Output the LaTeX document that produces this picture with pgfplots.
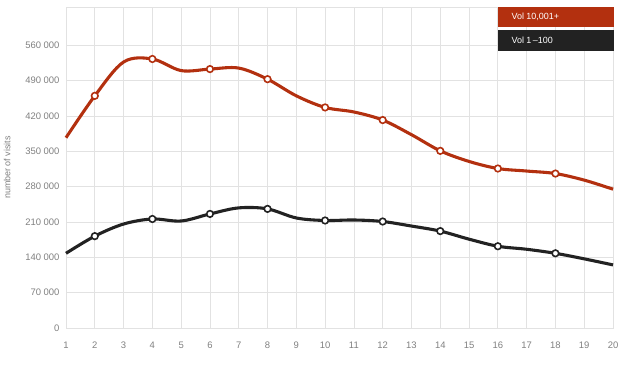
\documentclass[border=0pt]{standalone}
\usepackage{pgfplots}
\pgfplotsset{compat=1.18}
\usepackage{fontspec}
\setmainfont{Liberation Sans}
\definecolor{redline}{HTML}{B3300F}
\definecolor{blackline}{HTML}{222222}
\definecolor{gridc}{HTML}{E2E2E2}
\definecolor{tickc}{HTML}{808080}
\begin{document}
\begin{tikzpicture}[x=1bp,y=1bp]
\useasboundingbox (0,0) rectangle (624,368);
\begin{axis}[
  at={(66bp,40bp)}, anchor=south west,
  scale only axis, width=547bp, height=321bp,
  xmin=1, xmax=20, ymin=0, ymax=636000,
  xtick={1,2,3,4,5,6,7,8,9,10,11,12,13,14,15,16,17,18,19,20},
  xticklabels={1,2,3,4,5,6,7,8,9,10,11,12,13,14,15,16,17,18,19,20},
  ytick={0,70000,140000,210000,280000,350000,420000,490000,560000},
  yticklabels={0,70 000,140 000,210 000,280 000,350 000,420 000,490 000,560 000},
  grid=major,
  major grid style={gridc, line width=0.8pt},
  axis line style={gridc, line width=0.8pt},
  tick style={draw=none},
  ticklabel style={font=\fontsize{9.5}{10}\selectfont, text=tickc},
  xticklabel style={yshift=-10bp},
  yticklabel style={xshift=-3bp},
  ylabel={number of visits},
  ylabel style={font=\fontsize{9}{10}\selectfont, text=tickc, yshift=8bp},
  clip=false,
]
\addplot[redline, line width=3.1pt, smooth, tension=0.55,
  mark=*, mark size=3.3pt, mark options={fill=white, draw=redline, line width=1.6pt},
  mark indices={2,4,6,8,10,12,14,16,18}]
  coordinates {(1,377000) (2,460000) (3,527000) (4,533000) (5,510000) (6,513000) (7,515000) (8,493000) (9,460000) (10,437000) (11,428000) (12,412000) (13,383000) (14,351000) (15,330000) (16,316000) (17,311000) (18,306000) (19,293000) (20,275000)};
\addplot[blackline, line width=3.1pt, smooth, tension=0.55,
  mark=*, mark size=3.3pt, mark options={fill=white, draw=blackline, line width=1.6pt},
  mark indices={2,4,6,8,10,12,14,16,18}]
  coordinates {(1,148000) (2,182000) (3,206000) (4,216000) (5,212000) (6,226000) (7,238000) (8,236000) (9,218000) (10,213000) (11,214000) (12,211000) (13,202000) (14,192000) (15,176000) (16,162000) (17,156000) (18,148000) (19,137000) (20,125000)};
\end{axis}
\fill[redline] (498,341) rectangle (614,361);
\node[anchor=west, text=white, font=\fontsize{9}{10}\selectfont] at (508,351) {Vol 10,001+};
\fill[blackline] (498,317) rectangle (614,338);
\node[anchor=west, text=white, font=\fontsize{9}{10}\selectfont] at (508,327.5) {Vol 1\,–100};
\end{tikzpicture}
\end{document}
